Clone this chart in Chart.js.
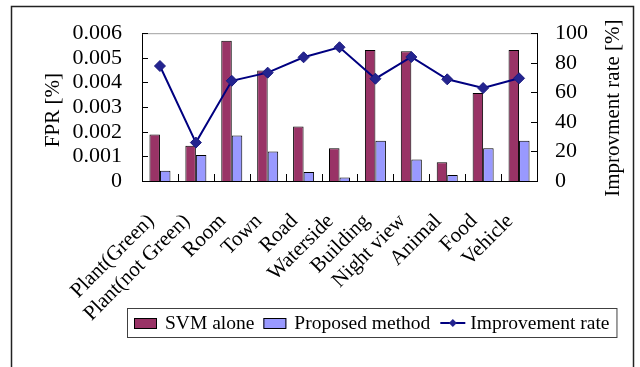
<!DOCTYPE html>
<html>
<head>
<meta charset="utf-8">
<script src="https://cdn.jsdelivr.net/npm/chart.js@4/dist/chart.umd.min.js"></script>
<style>
  html, body { margin: 0; padding: 0; background: #ffffff; }
  #wrap { width: 640px; height: 367px; position: relative; }
</style>
</head>
<body>
<div id="wrap"><canvas id="c" width="640" height="367"></canvas></div>
<script>
// Scene categories
const categories = ['Plant(Green)', 'Plant(not Green)', 'Room', 'Town', 'Road', 'Waterside',
  'Building', 'Night view', 'Animal', 'Food', 'Vehicle'];
// False positive rate [%]
const svmAlone = [0.00189, 0.00143, 0.00569, 0.00449, 0.00221, 0.00133, 0.00532, 0.00527, 0.00076, 0.00357, 0.00532];
const proposedMethod = [0.00042, 0.00106, 0.00185, 0.00120, 0.00037, 0.00014, 0.00163, 0.00087, 0.00024, 0.00133, 0.00163];
// Improvement rate [%]
const improvementRate = [77.8, 26.0, 67.8, 73.3, 83.7, 90.5, 69.2, 83.9, 68.8, 62.9, 69.5];
// Axis settings
const fprTicks = { min: 0, max: 0.006, step: 0.001 };
const rateTicks = { min: 0, max: 100, step: 20 };
const fprTitle = 'FPR [%]';
const rateTitle = 'Improvment rate [%]';

const SERIF = '"Liberation Serif", "Times New Roman", serif';

// Frame, plot border, inward tick marks, axis titles and legend
const decorations = {
  id: 'decorations',
  beforeDraw(chart) {
    const ctx = chart.ctx;
    ctx.save();
    ctx.fillStyle = '#ffffff';
    ctx.fillRect(0, 0, chart.width, chart.height);
    ctx.strokeStyle = '#222222';
    ctx.lineWidth = 1.5;
    ctx.strokeRect(11.5, 6.5, 622, 420);
    ctx.restore();
  },
  afterDraw(chart) {
    const ctx = chart.ctx;
    const a = chart.chartArea;
    const x = chart.scales.x, y = chart.scales.y, y1 = chart.scales.y1;
    ctx.save();
    // top edge of plot area
    ctx.strokeStyle = '#a0a0a0';
    ctx.lineWidth = 1;
    ctx.beginPath();
    ctx.moveTo(a.left, a.top + 0.5);
    ctx.lineTo(a.right, a.top + 0.5);
    ctx.stroke();
    // inward ticks
    ctx.strokeStyle = '#000000';
    ctx.beginPath();
    y.ticks.forEach(t => {
      const py = Math.round(y.getPixelForValue(t.value)) + 0.5;
      ctx.moveTo(a.left, py); ctx.lineTo(a.left + 6, py);
    });
    y1.ticks.forEach(t => {
      const py = Math.round(y1.getPixelForValue(t.value)) + 0.5;
      ctx.moveTo(a.right, py); ctx.lineTo(a.right - 6, py);
    });
    const half = (x.getPixelForValue(1) - x.getPixelForValue(0)) / 2;
    for (let i = 0; i < categories.length - 1; i++) {
      const px = Math.round(x.getPixelForValue(i) + half) + 0.5;
      ctx.moveTo(px, a.bottom); ctx.lineTo(px, a.bottom - 7);
    }
    ctx.stroke();

    // axis titles (both read bottom to top)
    ctx.fillStyle = '#000000';
    ctx.font = '21px ' + SERIF;
    ctx.textAlign = 'center';
    ctx.textBaseline = 'middle';
    const midY = (a.top + a.bottom) / 2;
    ctx.save();
    ctx.translate(53, midY + 3);
    ctx.rotate(-Math.PI / 2);
    ctx.fillText(fprTitle, 0, 0);
    ctx.restore();
    ctx.save();
    ctx.translate(613, midY + 1);
    ctx.rotate(-Math.PI / 2);
    ctx.fillText(rateTitle, 0, 0);
    ctx.restore();

    // legend
    ctx.font = '19.5px ' + SERIF;
    ctx.textAlign = 'left';
    ctx.textBaseline = 'middle';
    const ly = 323;
    let cx = 134;
    chart.data.datasets.forEach(ds => {
      if (ds.type === 'line') {
        ctx.strokeStyle = ds.borderColor;
        ctx.lineWidth = 2;
        ctx.beginPath();
        ctx.moveTo(cx + 1, ly); ctx.lineTo(cx + 26, ly);
        ctx.stroke();
        const r = 4;
        ctx.fillStyle = ds.pointBackgroundColor;
        ctx.beginPath();
        ctx.moveTo(cx + 13.5, ly - r); ctx.lineTo(cx + 13.5 + r, ly);
        ctx.lineTo(cx + 13.5, ly + r); ctx.lineTo(cx + 13.5 - r, ly);
        ctx.closePath(); ctx.fill();
        cx += 31;
      } else {
        ctx.fillStyle = ds.backgroundColor;
        ctx.fillRect(cx, ly - 5, 23, 10);
        ctx.strokeStyle = '#000000';
        ctx.lineWidth = 1;
        ctx.strokeRect(cx + 0.5, ly - 5 + 0.5, 22, 10);
        cx += 31;
      }
      ctx.fillStyle = '#000000';
      ctx.fillText(ds.label, cx, ly + 1);
      cx += ctx.measureText(ds.label).width + 9;
    });
    ctx.strokeStyle = '#404040';
    ctx.lineWidth = 1;
    ctx.strokeRect(127.5, 308.5, cx - 127 - 2, 29);
    ctx.restore();
  }
};

const fmtFpr = v => String(+v.toFixed(3));

new Chart(document.getElementById('c'), {
  data: {
    labels: categories,
    datasets: [
      {
        type: 'bar', label: 'SVM alone', data: svmAlone, yAxisID: 'y',
        backgroundColor: '#993366', borderColor: '#000000', borderWidth: 1,
        borderSkipped: 'bottom', categoryPercentage: 0.585, barPercentage: 1, order: 2
      },
      {
        type: 'bar', label: 'Proposed method', data: proposedMethod, yAxisID: 'y',
        backgroundColor: '#9999ff', borderColor: '#000000', borderWidth: 1,
        borderSkipped: 'bottom', categoryPercentage: 0.585, barPercentage: 1, order: 2
      },
      {
        type: 'line', label: 'Improvement rate', data: improvementRate, yAxisID: 'y1',
        borderColor: '#000080', borderWidth: 2, pointStyle: 'rectRot', pointRadius: 5.5,
        pointBackgroundColor: '#24248f', pointBorderColor: '#1a1a80', pointBorderWidth: 1,
        tension: 0, order: 0
      }
    ]
  },
  options: {
    responsive: false,
    animation: false,
    layout: { padding: { top: 33, left: 0, right: 0, bottom: 0 } },
    plugins: { legend: { display: false }, tooltip: { enabled: false } },
    scales: {
      x: {
        type: 'category',
        offset: true,
        grid: { display: false, drawTicks: false },
        border: { display: true, color: '#000000', width: 1 },
        ticks: {
          color: '#000000', font: { family: SERIF, size: 21 },
          minRotation: 45, maxRotation: 45, padding: 28, labelOffset: -9, autoSkip: false
        },
        afterFit(s) { s.height = 367 - 33 - 148; }
      },
      y: {
        position: 'left',
        min: fprTicks.min, max: fprTicks.max,
        grid: { display: false, drawTicks: false },
        border: { display: true, color: '#000000', width: 1 },
        ticks: {
          stepSize: fprTicks.step, color: '#000000', padding: 20, autoSkip: false,
          font: { family: SERIF, size: 22 }, callback: fmtFpr
        },
        afterFit(s) { s.width = 142; }
      },
      y1: {
        position: 'right',
        min: rateTicks.min, max: rateTicks.max,
        grid: { display: false, drawTicks: false },
        border: { display: true, color: '#000000', width: 1 },
        ticks: {
          stepSize: rateTicks.step, color: '#000000', padding: 18, autoSkip: false,
          font: { family: SERIF, size: 22 }
        },
        afterFit(s) { s.width = 103; }
      }
    }
  },
  plugins: [decorations]
});
</script>
</body>
</html>
